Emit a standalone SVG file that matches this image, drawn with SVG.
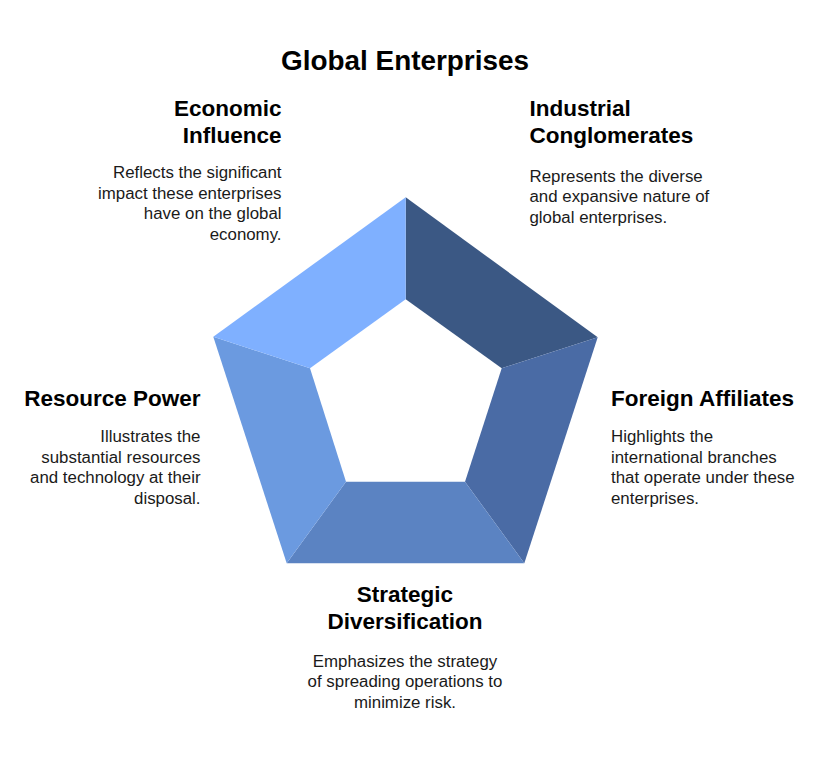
<svg xmlns="http://www.w3.org/2000/svg" width="839" height="771" viewBox="0 0 839 771">
<style>
text{font-family:"Liberation Sans",Arial,sans-serif;fill:#000}
.t{font-size:27.9px;font-weight:bold}
.h{font-size:22.5px;font-weight:bold}
.b{font-size:16.85px;fill:#1a1a1a}
.r{text-anchor:end}
.c{text-anchor:middle}
</style>
<rect width="839" height="771" fill="#fff"/>
<text class="t c" x="405" y="70">Global Enterprises</text>
<g id="segments">
<polygon id="seg-industrial" points="405.7,197.3 597.7,337.3 501.7,368.3 405.7,299.3" fill="#3b5884"/>
<polygon id="seg-foreign" points="597.7,337.3 524.3,563.3 465,481.7 501.7,368.3" fill="#4a6ba5"/>
<polygon id="seg-strategic" points="524.3,563.3 286.7,563.3 346,481.7 465,481.7" fill="#5b83c2"/>
<polygon id="seg-resource" points="286.7,563.3 213.3,336.7 310,368.3 346,481.7" fill="#6b9ae0"/>
<polygon id="seg-economic" points="213.3,336.7 405.7,197.3 405.7,299.3 310,368.3" fill="#7fb0ff"/>
</g>
<g id="economic-influence">
<text class="h r" x="281.5" y="116">Economic</text>
<text class="h r" x="281.5" y="143">Influence</text>
<text class="b r" x="281.5" y="178">Reflects the significant</text>
<text class="b r" x="281.5" y="198.5">impact these enterprises</text>
<text class="b r" x="281.5" y="219">have on the global</text>
<text class="b r" x="281.5" y="239.5">economy.</text>
</g>
<g id="industrial-conglomerates">
<text class="h" x="529.5" y="116">Industrial</text>
<text class="h" x="529.5" y="143">Conglomerates</text>
<text class="b" x="529.5" y="181.5">Represents the diverse</text>
<text class="b" x="529.5" y="202">and expansive nature of</text>
<text class="b" x="529.5" y="222.5">global enterprises.</text>
</g>
<g id="resource-power">
<text class="h r" x="200.5" y="405.5">Resource Power</text>
<text class="b r" x="200.5" y="442">Illustrates the</text>
<text class="b r" x="200.5" y="462.5">substantial resources</text>
<text class="b r" x="200.5" y="483">and technology at their</text>
<text class="b r" x="200.5" y="503.5">disposal.</text>
</g>
<g id="foreign-affiliates">
<text class="h" x="611" y="405.5">Foreign Affiliates</text>
<text class="b" x="611" y="442">Highlights the</text>
<text class="b" x="611" y="462.5">international branches</text>
<text class="b" x="611" y="483">that operate under these</text>
<text class="b" x="611" y="503.5">enterprises.</text>
</g>
<g id="strategic-diversification">
<text class="h c" x="405" y="601.5">Strategic</text>
<text class="h c" x="405" y="628.5">Diversification</text>
<text class="b c" x="405" y="666.5">Emphasizes the strategy</text>
<text class="b c" x="405" y="687">of spreading operations to</text>
<text class="b c" x="405" y="707.5">minimize risk.</text>
</g>
</svg>
